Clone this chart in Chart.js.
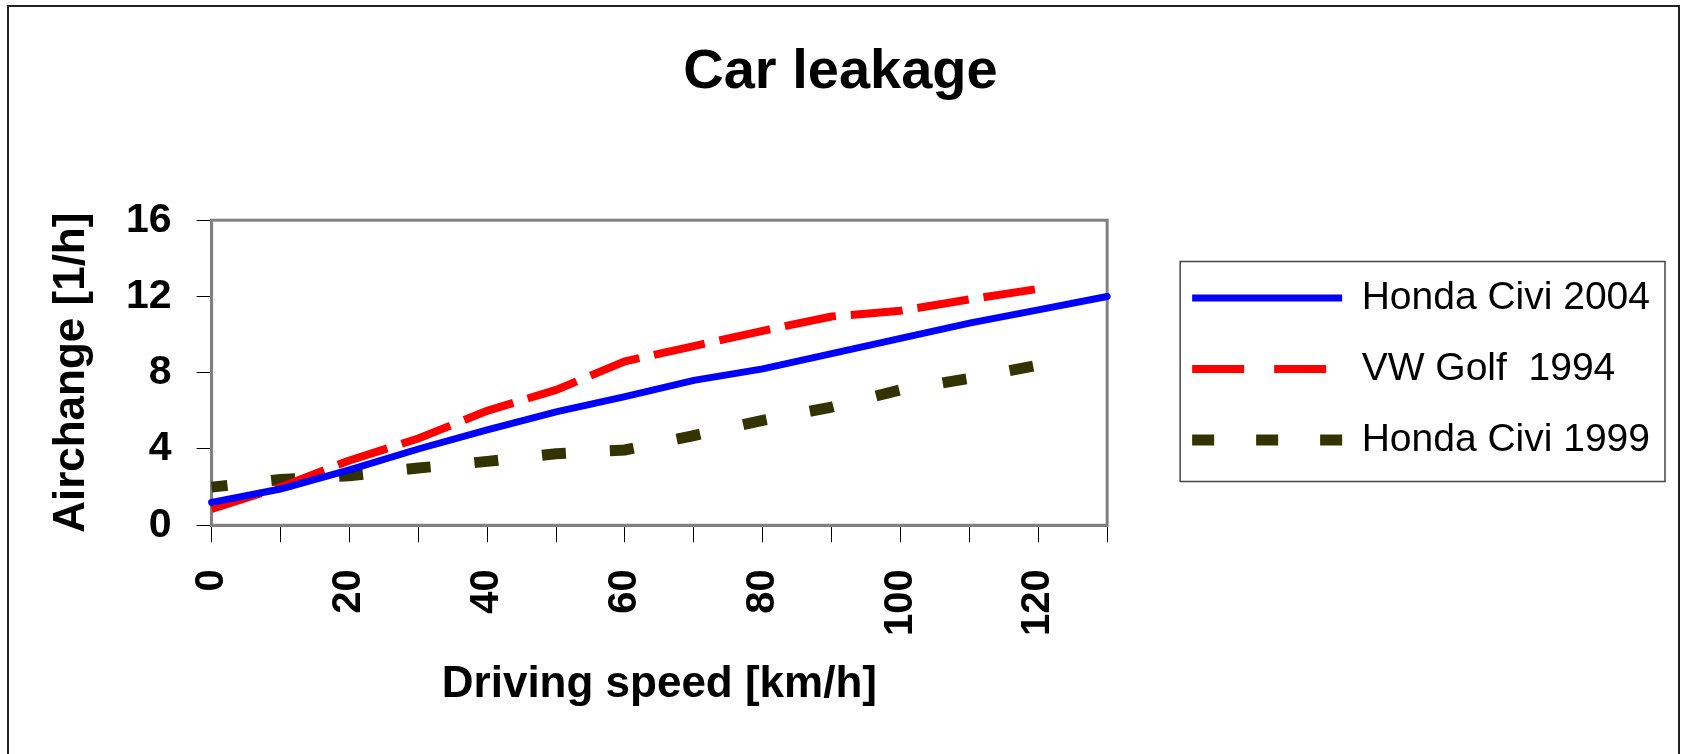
<!DOCTYPE html>
<html>
<head>
<meta charset="utf-8">
<title>Car leakage</title>
<script src="https://cdn.jsdelivr.net/npm/chart.js@4.4.1/dist/chart.umd.min.js"></script>
<style>
    body {
        margin: 0;
        overflow: hidden;
        background: #fff;
    }

    #wrap {
        position: relative;
        width: 1681px;
        height: 754px;
    }

    #frame {
        position: absolute;
        left: 7px;
        top: 5px;
        width: 1669px;
        height: 800px;
        border: 2px solid #222;
        pointer-events: none;
    }
</style>
</head>
<body>
<div id="wrap">
    <canvas id="myChart" width="1681" height="754"></canvas>
    <div id="frame"></div>
</div>

<script>
let speeds = [0, 10, 20, 30, 40, 50, 60, 70, 80, 90, 100, 110, 120, 130];
let hondaCivi2004 = [1.2, 1.9, 2.9, 4.0, 5.0, 5.95, 6.75, 7.6, 8.2, 9.0, 9.8, 10.6, 11.3, 12.0];
let vwGolf1994 = [0.85, 2.0, 3.4, 4.55, 6.0, 7.1, 8.6, 9.4, 10.2, 10.95, 11.25, 11.85, 12.4];
let hondaCivi1999 = [2.0, 2.4, 2.6, 3.0, 3.35, 3.75, 3.95, 4.7, 5.5, 6.2, 7.1, 7.7, 8.4];
let seriesNames = ['Honda Civi 2004', 'VW Golf  1994', 'Honda Civi 1999'];
let xTickLabels = [0, 20, 40, 60, 80, 100, 120];
let yTicks = [0, 4, 8, 12, 16];

// legend samples use their own dash spacing, like in the original
let legendDash = [[], [52, 30], [22, 42]];


function init() {
    Chart.defaults.font.family = "'Liberation Sans', Arial, sans-serif";
    Chart.defaults.color = '#000';
    const ctx = document.getElementById('myChart').getContext('2d');
    createChart(ctx, getChartData(), getChartOptions());
}


function toPoints(values) {
    return values.map((v, i) => ({x: speeds[i], y: v}));
}


function getChartData() {
    return {
        datasets: [{
            label: seriesNames[0],
            data: toPoints(hondaCivi2004),
            borderColor: '#0000ff',
            backgroundColor: '#0000ff',
            borderWidth: 7,
            borderCapStyle: 'round'
        }, {
            label: seriesNames[1],
            data: toPoints(vwGolf1994),
            borderColor: '#ff0000',
            backgroundColor: '#ff0000',
            borderWidth: 8,
            borderDash: [52, 15]
        }, {
            label: seriesNames[2],
            data: toPoints(hondaCivi1999),
            borderColor: '#333300',
            backgroundColor: '#333300',
            borderWidth: 11,
            borderDash: [24, 44],
            borderDashOffset: 8
        }]
    };
}


function generateLegend(chart) {
    let items = Chart.defaults.plugins.legend.labels.generateLabels(chart);
    items.forEach((item, i) => {
        item.lineDash = legendDash[i];
    });
    return items;
}


function getChartOptions() {
    return {
        responsive: false,
        animation: false,
        devicePixelRatio: 1,
        layout: {
            padding: {left: 21, right: 21, top: 0, bottom: 16}
        },
        elements: {
            line: {tension: 0, fill: false},
            point: {radius: 0, hoverRadius: 0}
        },
        datasets: {
            line: {clip: false}
        },
        scales: {
            x: {
                type: 'linear',
                min: 0,
                max: 130,
                ticks: {
                    stepSize: 10,
                    autoSkip: false,
                    minRotation: 90,
                    maxRotation: 90,
                    padding: 27,
                    color: '#000',
                    font: {size: 40, weight: 'bold'},
                    callback: v => xTickLabels.includes(v) ? String(v) : ''
                },
                grid: {
                    drawOnChartArea: false,
                    drawTicks: true,
                    tickLength: 17,
                    tickColor: '#000',
                    tickWidth: 1
                },
                border: {display: true, color: '#808080', width: 3},
                title: {
                    display: true,
                    text: 'Driving speed [km/h]',
                    color: '#000',
                    font: {size: 44, weight: 'bold', lineHeight: 1},
                    padding: {top: 0, bottom: 31}
                }
            },
            y: {
                min: 0,
                max: 16,
                afterBuildTicks: scale => {
                    scale.ticks = yTicks.map(v => ({value: v}));
                },
                ticks: {
                    padding: 25,
                    color: '#000',
                    font: {size: 41, weight: 'bold'}
                },
                grid: {
                    drawOnChartArea: false,
                    drawTicks: true,
                    tickLength: 15,
                    tickColor: '#000',
                    tickWidth: 1
                },
                border: {display: true, color: '#808080', width: 3},
                title: {
                    display: true,
                    text: 'Airchange [1/h]',
                    color: '#000',
                    font: {size: 44, weight: 'bold', lineHeight: 1},
                    padding: {top: 29, bottom: 7}
                }
            },
            gap: {
                position: 'right',
                display: true,
                grid: {display: false},
                border: {display: false},
                ticks: {display: false},
                afterFit: scale => {
                    scale.width = 53;
                }
            }
        },
        plugins: {
            title: {
                display: true,
                text: 'Car leakage',
                color: '#000',
                font: {size: 56, weight: 'bold'},
                padding: {top: 39, bottom: 114}
            },
            legend: {
                position: 'right',
                maxWidth: 520,
                labels: {
                    usePointStyle: true,
                    pointStyle: 'line',
                    pointStyleWidth: 150,
                    padding: 32,
                    color: '#000',
                    font: {size: 39},
                    generateLabels: generateLegend
                }
            },
            tooltip: {enabled: false}
        }
    };
}


// grey frame round the plot area
const plotFrame = {
    id: 'plotFrame',
    beforeDatasetsDraw(chart) {
        const {ctx, chartArea} = chart;
        ctx.save();
        ctx.strokeStyle = '#808080';
        ctx.lineWidth = 3;
        ctx.strokeRect(chartArea.left, chartArea.top, chartArea.right - chartArea.left, chartArea.bottom - chartArea.top);
        ctx.restore();
    }
};


// thin box round the legend
const legendBox = {
    id: 'legendBox',
    afterDraw(chart) {
        const legend = chart.legend;
        const boxes = legend.legendHitBoxes;
        if (!boxes || !boxes.length) return;
        const last = boxes[boxes.length - 1];
        const left = legend.left + 20;
        const right = legend.right + 5;
        const top = boxes[0].top - 17;
        const bottom = last.top + last.height + 22;
        const ctx = chart.ctx;
        ctx.save();
        ctx.strokeStyle = '#444';
        ctx.lineWidth = 1.5;
        ctx.strokeRect(left, top, right - left, bottom - top);
        ctx.restore();
    }
};


function createChart(ctx, data, options) {
    new Chart(ctx, {
        type: 'line',
        data: data,
        options: options,
        plugins: [plotFrame, legendBox]
    });
}


init();
</script>
</body>
</html>
